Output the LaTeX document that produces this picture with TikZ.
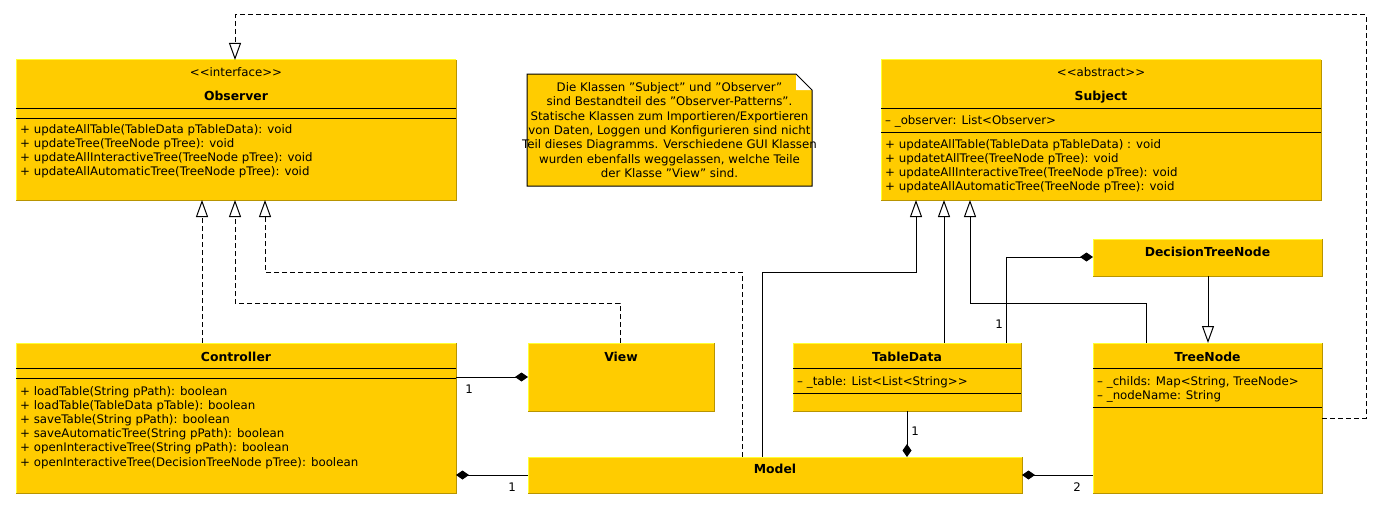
\documentclass[tikz,border=0pt]{standalone}
\usepackage{fontspec}
\setmainfont[Ligatures=ResetAll]{DejaVu Sans}
\usetikzlibrary{arrows.meta}
\definecolor{umlfill}{HTML}{FFCC00}
\definecolor{umlhi}{HTML}{FFFF33}
\definecolor{umllo}{HTML}{B89400}
\newcommand{\qq}{\symbol{34}}
\begin{document}
\begin{tikzpicture}[x=1pt,y=-1pt,
  txt/.style={font=\fontsize{11.8}{14}\selectfont, inner sep=0pt, anchor=base west},
  ttl/.style={font=\fontsize{12.4}{14}\selectfont\bfseries, inner sep=0pt, anchor=base},
  ster/.style={font=\fontsize{11.8}{14}\selectfont, inner sep=0pt, anchor=base},
  lbl/.style={font=\fontsize{11.8}{14}\selectfont, inner sep=0pt, anchor=base},
  sep/.style={line width=1pt, black},
  conn/.style={line width=1pt, black},
  dsh/.style={conn, dash pattern=on 5pt off 3pt},
  gen/.style={-{Triangle[open, width=12pt, length=17pt, line width=1pt]}},
  comp/.style={-{Diamond[width=9pt, length=13pt]}},
]
\useasboundingbox (0,0) rectangle (1383,511);
\tikzset{cls/.style args={#1x#2}{fill=umlfill, inner sep=0pt, outer sep=0pt, anchor=north west, minimum width=#1pt, minimum height=#2pt}}

% class boxes
\node[cls=440x140] (obs)  at (16,60)   {};
\node[cls=440x140] (subj) at (881,60)  {};
\node[cls=440x150] (ctrl) at (16,343)  {};
\node[cls=186x68]  (view) at (528,343) {};
\node[cls=494x36]  (model) at (528,457) {};
\node[cls=228x68]  (td)   at (793,343) {};
\node[cls=229x150] (tn)   at (1093,343) {};
\node[cls=229x37]  (dtn)  at (1093,239) {};

\foreach \n in {obs,subj,ctrl,view,model,td,tn,dtn}{
  \draw[umlhi, line width=1pt] (\n.south west) -- (\n.north west) -- (\n.north east);
  \draw[umllo, line width=1pt] (\n.north east) -- (\n.south east) -- (\n.south west);
}

% separators
\draw[sep] (obs.west |- 0,108) -- (obs.east |- 0,108);
\draw[sep] (obs.west |- 0,118) -- (obs.east |- 0,118);
\draw[sep] (subj.west |- 0,108) -- (subj.east |- 0,108);
\draw[sep] (subj.west |- 0,132) -- (subj.east |- 0,132);
\draw[sep] (ctrl.west |- 0,368) -- (ctrl.east |- 0,368);
\draw[sep] (ctrl.west |- 0,378) -- (ctrl.east |- 0,378);
\draw[sep] (td.west |- 0,368) -- (td.east |- 0,368);
\draw[sep] (td.west |- 0,393) -- (td.east |- 0,393);
\draw[sep] (tn.west |- 0,368) -- (tn.east |- 0,368);
\draw[sep] (tn.west |- 0,407) -- (tn.east |- 0,407);

% Observer texts
\node[ster] (obsst) at (236,76) {<{}<interface>{}>};
\node[ttl] (obsnm) at (236,100) {Observer};
\node[txt] (obsm1) at (20,133) {+ updateAllTable(TableData pTableData): void};
\node[txt] (obsm2) at (20,147) {+ updateTree(TreeNode pTree): void};
\node[txt] (obsm3) at (20,161) {+ updateAllInteractiveTree(TreeNode pTree): void};
\node[txt] (obsm4) at (20,175) {+ updateAllAutomaticTree(TreeNode pTree): void};

% Subject texts
\node[ster] (subjst) at (1101,76) {<{}<abstract>{}>};
\node[ttl] (subjnm) at (1101,100) {Subject};
\node[txt] (subja1) at (885,124) {– \_observer: List<Observer>};
\node[txt] (subjm1) at (885,148) {+ updateAllTable(TableData pTableData) : void};
\node[txt] (subjm2) at (885,162) {+ updatetAllTree(TreeNode pTree): void};
\node[txt] (subjm3) at (885,176) {+ updateAllInteractiveTree(TreeNode pTree): void};
\node[txt] (subjm4) at (885,190) {+ updateAllAutomaticTree(TreeNode pTree): void};

% Controller texts
\node[ttl] (ctrlnm) at (236,361) {Controller};
\node[txt] (ctrlm1) at (20,395) {+ loadTable(String pPath): boolean};
\node[txt] (ctrlm2) at (20,409) {+ loadTable(TableData pTable): boolean};
\node[txt] (ctrlm3) at (20,423) {+ saveTable(String pPath): boolean};
\node[txt] (ctrlm4) at (20,437) {+ saveAutomaticTree(String pPath): boolean};
\node[txt] (ctrlm5) at (20,451) {+ openInteractiveTree(String pPath): boolean};
\node[txt] (ctrlm6) at (20,466) {+ openInteractiveTree(DecisionTreeNode pTree): boolean};

% other names
\node[ttl] (viewnm) at (621,361) {View};
\node[ttl] (modelnm) at (775,473) {Model};
\node[ttl] (tdnm) at (907,361) {TableData};
\node[txt] (tda1) at (797,385) {– \_table: List<List<String>{}>};
\node[ttl] (tnnm) at (1207.5,361) {TreeNode};
\node[txt] (tna1) at (1097,385) {– \_childs: Map<String, TreeNode>};
\node[txt] (tna2) at (1097,399) {– \_nodeName: String};
\node[ttl] (dtnnm) at (1207.5,256) {DecisionTreeNode};

% note
\fill[umlfill] (527,74) -- (796,74) -- (812,90) -- (812,186) -- (527,186) -- cycle;
\fill[white] (796,74) -- (812,90) -- (796,90) -- cycle;
\draw[line width=1pt] (796,74) -- (527,74) -- (527,186) -- (812,186) -- (812,90) -- cycle;
\node[font=\fontsize{11.8}{14.4}\selectfont, align=center, inner sep=0pt] (note) at (669.5,130)
 {Die Klassen \qq Subject\qq{} und \qq Observer\qq\\sind Bestandteil des \qq Observer-Patterns\qq.\\Statische Klassen zum Importieren/Exportieren\\von Daten, Loggen und Konfigurieren sind nicht\\Teil dieses Diagramms. Verschiedene GUI Klassen\\wurden ebenfalls weggelassen, welche Teile\\der Klasse \qq View\qq{} sind.};

% helper coordinates
\coordinate (xo1) at (202,0);
\coordinate (xo2) at (235,0);
\coordinate (xo3) at (265,0);
\coordinate (xv) at (620,0);
\coordinate (xmd) at (742,0);
\coordinate (xms) at (762,0);
\coordinate (xs1) at (916,0);
\coordinate (xs2) at (944,0);
\coordinate (xs3) at (970,0);
\coordinate (xtn) at (1146,0);
\coordinate (xdt) at (1208,0);
\coordinate (xcmp) at (1006,0);
\coordinate (xtdm) at (907,0);
\coordinate (yr1) at (0,272);
\coordinate (yr2) at (0,303);
\coordinate (ytop) at (0,15);
\coordinate (xright) at (1366,0);
\coordinate (ytn) at (0,418);
\coordinate (ydtn) at (0,257);
\coordinate (yview) at (0,377);
\coordinate (ybot) at (0,475);

% realizations of Observer
\draw[dsh, gen] (ctrl.north -| xo1) -- (obs.south -| xo1);
\draw[dsh, gen] (view.north -| xv) -- (xv |- yr2) -- (xo2 |- yr2) -- (obs.south -| xo2);
\draw[dsh, gen] (model.north -| xmd) -- (xmd |- yr1) -- (xo3 |- yr1) -- (obs.south -| xo3);
\draw[dsh, gen] (tn.east |- ytn) -- (xright |- ytn) -- (xright |- ytop) -- (xo2 |- ytop) -- (obs.north -| xo2);

% generalizations to Subject
\draw[conn, gen] (model.north -| xms) -- (xms |- yr1) -- (xs1 |- yr1) -- (subj.south -| xs1);
\draw[conn, gen] (td.north -| xs2) -- (subj.south -| xs2);
\draw[conn, gen] (tn.north -| xtn) -- (xtn |- yr2) -- (xs3 |- yr2) -- (subj.south -| xs3);
\draw[conn, gen] (dtn.south -| xdt) -- (tn.north -| xdt);

% compositions
\draw[conn, comp] (td.north -| xcmp) -- (xcmp |- ydtn) -- (dtn.west |- ydtn);
\draw[conn, comp] (td.south -| xtdm) -- (model.north -| xtdm);
\draw[conn, comp] (tn.west |- ybot) -- (model.east |- ybot);
\draw[conn, comp] (ctrl.east |- yview) -- (view.west |- yview);
\draw[conn, comp] (model.west |- ybot) -- (ctrl.east |- ybot);

% multiplicities
\node[lbl] (m1) at (999,328) {1};
\node[lbl] (m2) at (915,435) {1};
\node[lbl] (m3) at (1077,491) {2};
\node[lbl] (m4) at (469,393) {1};
\node[lbl] (m5) at (512,491) {1};
\end{tikzpicture}
\end{document}
